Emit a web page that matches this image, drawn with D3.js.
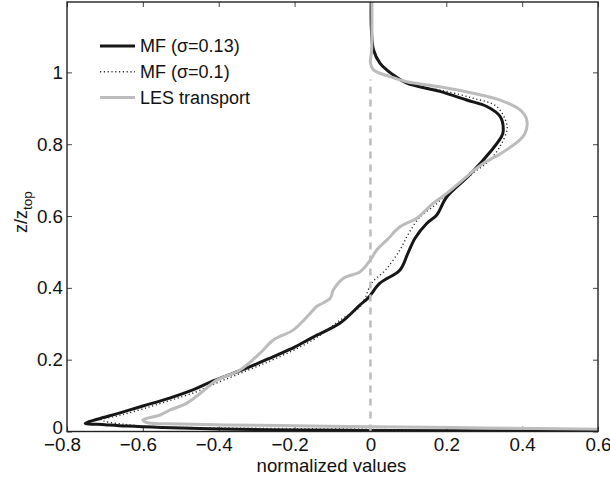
<!DOCTYPE html>
<html>
<head>
<meta charset="utf-8">
<script src="https://cdn.jsdelivr.net/npm/d3@7"></script>
<style>
  body { margin: 0; background: #fff; }
  svg { display: block; font-family: "Liberation Sans", Arial, sans-serif; }
</style>
</head>
<body>
<svg id="chart"></svg>
<script>
// profiles: [value, z/ztop]
const mf013 = [
  [0.6, 0.001], [0.2, 0.002], [0, 0.003], [-0.2, 0.004], [-0.4, 0.007], [-0.55, 0.011],
  [-0.642, 0.015], [-0.7, 0.019], [-0.752, 0.023], [-0.72, 0.034], [-0.66, 0.052],
  [-0.6, 0.071], [-0.53, 0.093], [-0.468, 0.116], [-0.415, 0.141], [-0.325, 0.177],
  [-0.257, 0.208], [-0.2, 0.235], [-0.151, 0.263], [-0.08, 0.302], [-0.028, 0.352],
  [-0.006, 0.372], [0.025, 0.413], [0.078, 0.45], [0.099, 0.497], [0.118, 0.539],
  [0.149, 0.58], [0.175, 0.603], [0.201, 0.653], [0.262, 0.715], [0.32, 0.784],
  [0.345, 0.82], [0.35, 0.835], [0.342, 0.877], [0.307, 0.905], [0.254, 0.923],
  [0.183, 0.947], [0.096, 0.97], [0.06, 0.993], [0.025, 1.026], [0.008, 1.063],
  [0.003, 1.109], [0.002, 1.2]
];
const mf010 = [
  [0.12, 0.004], [0, 0.006], [-0.2, 0.008], [-0.4, 0.01], [-0.55, 0.013], [-0.65, 0.02],
  [-0.71, 0.032], [-0.66, 0.045], [-0.6, 0.063], [-0.53, 0.086], [-0.46, 0.11],
  [-0.41, 0.133], [-0.32, 0.172], [-0.25, 0.203], [-0.15, 0.256], [-0.08, 0.31],
  [-0.03, 0.345], [-0.014, 0.372], [0.003, 0.413], [0.04, 0.45], [0.078, 0.506],
  [0.1, 0.55], [0.131, 0.598], [0.17, 0.63], [0.2, 0.66], [0.228, 0.682],
  [0.271, 0.72], [0.315, 0.756], [0.345, 0.8], [0.36, 0.84], [0.359, 0.858],
  [0.333, 0.905], [0.271, 0.928], [0.183, 0.951], [0.113, 0.965], [0.07, 0.985],
  [0.035, 1.015], [0.012, 1.055], [0.004, 1.1], [0.002, 1.2]
];
const les = [
  [0.62, 0.006], [0.3, 0.01], [0, 0.013], [-0.2, 0.016], [-0.379, 0.018], [-0.5, 0.021],
  [-0.59, 0.025], [-0.6, 0.032], [-0.555, 0.046], [-0.528, 0.06], [-0.484, 0.079],
  [-0.449, 0.106], [-0.405, 0.143], [-0.344, 0.171], [-0.291, 0.218], [-0.256, 0.255],
  [-0.203, 0.283], [-0.151, 0.338], [-0.142, 0.348], [-0.106, 0.371], [-0.098, 0.394],
  [-0.071, 0.427], [-0.027, 0.445], [0, 0.478], [0.017, 0.506], [0.043, 0.533],
  [0.078, 0.57], [0.122, 0.594], [0.166, 0.636], [0.201, 0.663], [0.271, 0.725],
  [0.298, 0.747], [0.342, 0.773], [0.394, 0.812], [0.408, 0.831], [0.412, 0.868],
  [0.394, 0.896], [0.342, 0.923], [0.271, 0.942], [0.183, 0.96], [0.096, 0.974],
  [0.052, 0.988], [0.008, 1.007], [0, 1.026], [0.003, 1.06], [0.004, 1.2]
];
const seriesNames = ["MF (\u03c3=0.13)", "MF (\u03c3=0.1)", "LES transport"];
const xTicks = [-0.8, -0.6, -0.4, -0.2, 0, 0.2, 0.4, 0.6];
const yTicks = [0, 0.2, 0.4, 0.6, 0.8, 1];

const width = 610, height = 478;
const margin = { top: 2, right: 12, bottom: 46.5, left: 67 };
const iw = width - margin.left - margin.right;
const ih = height - margin.top - margin.bottom;

const svg = d3.select("#chart").attr("width", width).attr("height", height);

const x = d3.scaleLinear().domain([-0.8, 0.6]).range([0, iw]);
const y = d3.scaleLinear().domain([0, 1.196]).range([ih, 0]);

const g = svg.append("g").attr("transform", `translate(${margin.left},${margin.top})`);

g.append("clipPath").attr("id", "clip")
  .append("rect").attr("width", iw).attr("height", ih);

const fmt = d => d === 0 ? "0" : (d < 0 ? "\u2212" + Math.abs(d) : String(d));

// axes with inward ticks, on all four sides like the original
const xAxis = g.append("g").attr("transform", `translate(0,${ih})`)
  .call(d3.axisBottom(x).tickValues(xTicks).tickFormat(fmt).tickSizeInner(-5).tickSizeOuter(0).tickPadding(6.5));
xAxis.selectAll("text").attr("dx", d => d < 0 ? -5 : 0);
const yAxis = g.append("g")
  .call(d3.axisLeft(y).tickValues(yTicks).tickFormat(fmt).tickSizeInner(-5).tickSizeOuter(0).tickPadding(4));
yAxis.selectAll("text").attr("dy", d => d === 0 ? "0.1em" : "0.32em");
g.append("g")
  .call(d3.axisTop(x).tickValues(xTicks).tickFormat("").tickSizeInner(-5).tickSizeOuter(0));
g.append("g").attr("transform", `translate(${iw},0)`)
  .call(d3.axisRight(y).tickValues(yTicks).tickFormat("").tickSizeInner(-5).tickSizeOuter(0));

g.selectAll(".domain").remove();
g.selectAll(".tick line").attr("stroke", "#444");
g.selectAll(".tick text").attr("font-size", 18.8).attr("fill", "#111").attr("font-family", null);

const plot = g.append("g").attr("clip-path", "url(#clip)");

const line = d3.line()
  .x(d => x(d[0]))
  .y(d => y(d[1]))
  .curve(d3.curveCatmullRom.alpha(0.5));

plot.append("path").datum(mf013)
  .attr("d", line).attr("fill", "none")
  .attr("stroke", "#161616").attr("stroke-width", 3);

plot.append("path").datum(mf010)
  .attr("d", line).attr("fill", "none")
  .attr("stroke", "#2a2a2a").attr("stroke-width", 1.4).attr("stroke-dasharray", "1.2,2.6");

plot.append("path").datum(les)
  .attr("d", line).attr("fill", "none")
  .attr("stroke", "#bcbcbc").attr("stroke-width", 3);

// zero line
plot.append("line")
  .attr("x1", x(0)).attr("x2", x(0))
  .attr("y1", y(0)).attr("y2", y(0.98))
  .attr("stroke", "#bcbcbc").attr("stroke-width", 2.5).attr("stroke-dasharray", "7,6");

// box
g.append("rect").attr("width", iw).attr("height", ih)
  .attr("fill", "none").attr("stroke", "#222").attr("stroke-width", 1.4);

// legend
const legend = g.append("g").attr("transform", "translate(33,44)");
const legendStyles = [
  { stroke: "#161616", w: 3, dash: null },
  { stroke: "#2a2a2a", w: 1.4, dash: "1.2,2.6" },
  { stroke: "#bcbcbc", w: 3, dash: null }
];
seriesNames.forEach((name, i) => {
  const row = legend.append("g").attr("transform", `translate(0,${i * 25.8})`);
  row.append("line").attr("x1", 0).attr("x2", 35)
    .attr("stroke", legendStyles[i].stroke)
    .attr("stroke-width", legendStyles[i].w)
    .attr("stroke-dasharray", legendStyles[i].dash);
  row.append("text").attr("x", 40).attr("dy", "0.35em")
    .attr("font-size", 18).attr("fill", "#111").text(name);
});

// axis labels
svg.append("text")
  .attr("x", margin.left + x(-0.1) - 1).attr("y", 472)
  .attr("text-anchor", "middle").attr("font-size", 18.6).attr("fill", "#111")
  .text("normalized values");

const yl = svg.append("text")
  .attr("transform", "translate(27,212) rotate(-90)")
  .attr("text-anchor", "middle").attr("font-size", 18).attr("fill", "#111");
yl.append("tspan").text("z/z");
yl.append("tspan").attr("dy", 5).attr("font-size", 13.5).text("top");
</script>
</body>
</html>
